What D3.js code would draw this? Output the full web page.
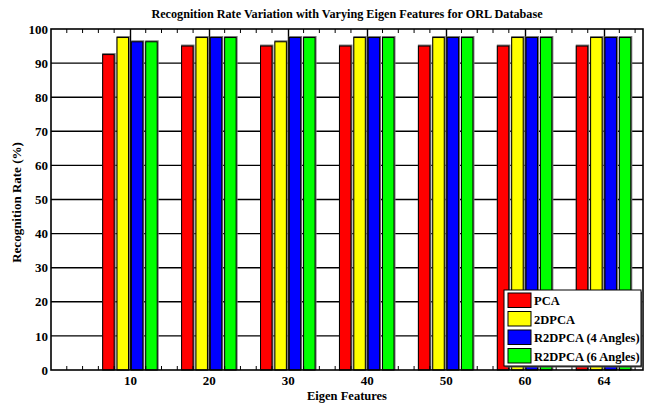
<!DOCTYPE html>
<html>
<head>
<meta charset="utf-8">
<script src="https://cdn.jsdelivr.net/npm/d3@7"></script>
<style>
  body { margin: 0; background: #fff; }
  svg { display: block; font-family: "Liberation Serif", "Times New Roman", serif; font-weight: bold; }
</style>
</head>
<body>
<div id="chart"></div>
<script>
const categories = ["10", "20", "30", "40", "50", "60", "64"];
const seriesNames = ["PCA", "2DPCA", "R2DPCA (4 Angles)", "R2DPCA (6 Angles)"];
const seriesColors = ["#ff0000", "#ffff00", "#0000ff", "#00ff00"];
const pca = [92.5, 95, 95, 95, 95, 95, 95];
const twoDpca = [97.5, 97.5, 96.25, 97.5, 97.5, 97.5, 97.5];
const r2dpca4 = [96.25, 97.5, 97.5, 97.5, 97.5, 97.5, 97.5];
const r2dpca6 = [96.25, 97.5, 97.5, 97.5, 97.5, 97.5, 97.5];
const yTicks = [0, 10, 20, 30, 40, 50, 60, 70, 80, 90, 100];

const series = [pca, twoDpca, r2dpca4, r2dpca6];

const width = 653, height = 403;
const margin = { top: 29, right: 10, bottom: 33, left: 51 };

const svg = d3.select("#chart").append("svg")
    .attr("width", width)
    .attr("height", height);

// numeric x like matlab: groups at 1..7, limits 0..7.5
const x = d3.scaleLinear().domain([0, 7.5]).range([margin.left, width - margin.right]);
const y = d3.scaleLinear().domain([0, 100]).range([height - margin.bottom, margin.top]);

const nS = series.length;
const groupWidth = Math.min(0.8, nS / (nS + 1.5));
const pitch = groupWidth / nS;
const barW = pitch * 0.8;

// grid
svg.append("g").selectAll("line")
  .data(yTicks.slice(1, -1))
  .join("line")
    .attr("x1", x(0)).attr("x2", x(7.5))
    .attr("y1", d => y(d)).attr("y2", d => y(d))
    .attr("stroke", "#000").attr("stroke-width", 1.4);

svg.append("g").selectAll("line")
  .data(categories.map((c, i) => i + 1))
  .join("line")
    .attr("x1", d => Math.round(x(d)) + 0.5).attr("x2", d => Math.round(x(d)) + 0.5)
    .attr("y1", y(0)).attr("y2", y(100))
    .attr("stroke", "#000").attr("stroke-width", 1.4);

// bars
const bars = [];
series.forEach((vals, s) => {
  vals.forEach((v, i) => {
    const cx = (i + 1) - groupWidth / 2 + pitch * (s + 0.5);
    bars.push({ s, v, x0: cx - barW / 2, x1: cx + barW / 2 });
  });
});

const barG = svg.append("g");
barG.selectAll("rect.shadow")
  .data(bars)
  .join("rect")
    .attr("class", "shadow")
    .attr("x", d => x(d.x0) - 0.5)
    .attr("y", d => y(d.v) - 1.5)
    .attr("width", d => x(d.x1) - x(d.x0) + 2)
    .attr("height", d => y(0) - y(d.v) + 1.5)
    .attr("fill", "#777");

barG.selectAll("rect.bar")
  .data(bars)
  .join("rect")
    .attr("class", "bar")
    .attr("x", d => x(d.x0))
    .attr("y", d => y(d.v))
    .attr("width", d => x(d.x1) - x(d.x0))
    .attr("height", d => y(0) - y(d.v))
    .attr("fill", d => seriesColors[d.s])
    .attr("stroke", "#000")
    .attr("stroke-width", 1);

// axes box
svg.append("rect")
  .attr("x", x(0)).attr("y", y(100))
  .attr("width", x(7.5) - x(0)).attr("height", y(0) - y(100))
  .attr("fill", "none").attr("stroke", "#000").attr("stroke-width", 1.6);

// minor x ticks (top and bottom)
const minor = d3.range(1, 38).map(k => k * 0.2).filter(d => Math.abs(d - Math.round(d)) > 1e-6 || d > 7);
const tickG = svg.append("g").attr("stroke", "#000").attr("stroke-width", 1);
tickG.selectAll("line.tb")
  .data(minor)
  .join("line")
    .attr("class", "tb")
    .attr("x1", d => x(d)).attr("x2", d => x(d))
    .attr("y1", y(0)).attr("y2", y(0) - 4);
tickG.selectAll("line.tt")
  .data(minor)
  .join("line")
    .attr("class", "tt")
    .attr("x1", d => x(d)).attr("x2", d => x(d))
    .attr("y1", y(100)).attr("y2", y(100) + 4);

// y axis labels
const yAxis = d3.axisLeft(y).tickValues(yTicks).tickSize(0).tickPadding(3);
svg.append("g")
  .attr("transform", `translate(${x(0)},0)`)
  .call(yAxis)
  .call(g => g.select(".domain").remove())
  .call(g => g.selectAll("text").attr("font-size", 13).attr("font-family", "Liberation Serif").attr("font-weight", "bold").attr("fill", "#000"));

// x axis labels
const xAxis = d3.axisBottom(x).tickValues(d3.range(1, 8)).tickFormat(d => categories[d - 1]).tickSize(0).tickPadding(6);
svg.append("g")
  .attr("transform", `translate(0,${y(0)})`)
  .call(xAxis)
  .call(g => g.select(".domain").remove())
  .call(g => g.selectAll("text").attr("font-size", 13).attr("font-family", "Liberation Serif").attr("font-weight", "bold").attr("fill", "#000"));

// titles
svg.append("text")
  .attr("x", (x(0) + x(7.5)) / 2).attr("y", 18)
  .attr("text-anchor", "middle")
  .attr("font-size", 12.2)
  .text("Recognition Rate Variation with Varying Eigen Features for ORL Database");

svg.append("text")
  .attr("x", (x(0) + x(7.5)) / 2).attr("y", 400)
  .attr("text-anchor", "middle")
  .attr("font-size", 12.5)
  .text("Eigen Features");

svg.append("text")
  .attr("transform", `translate(21,${(y(0) + y(100)) / 2 + 3}) rotate(-90)`)
  .attr("text-anchor", "middle")
  .attr("font-size", 13)
  .text("Recognition Rate (%)");

// legend
const lg = svg.append("g").attr("transform", "translate(504,290)");
const lgW = 137, lgH = 76;
lg.append("rect").attr("x", 1.5).attr("y", 1.5).attr("width", lgW).attr("height", lgH).attr("fill", "#555");
lg.append("rect").attr("width", lgW).attr("height", lgH).attr("fill", "#fff").attr("stroke", "#000").attr("stroke-width", 1);
const rows = lg.selectAll("g.row")
  .data(seriesNames)
  .join("g")
    .attr("class", "row")
    .attr("transform", (d, i) => `translate(4,${3 + i * 18.5})`);
rows.append("rect")
  .attr("width", 23).attr("height", 14.5)
  .attr("fill", (d, i) => seriesColors[i])
  .attr("stroke", "#000").attr("stroke-width", 1);
rows.append("text")
  .attr("x", 26).attr("y", 12)
  .attr("font-size", 12.5)
  .text(d => d);
</script>
</body>
</html>
